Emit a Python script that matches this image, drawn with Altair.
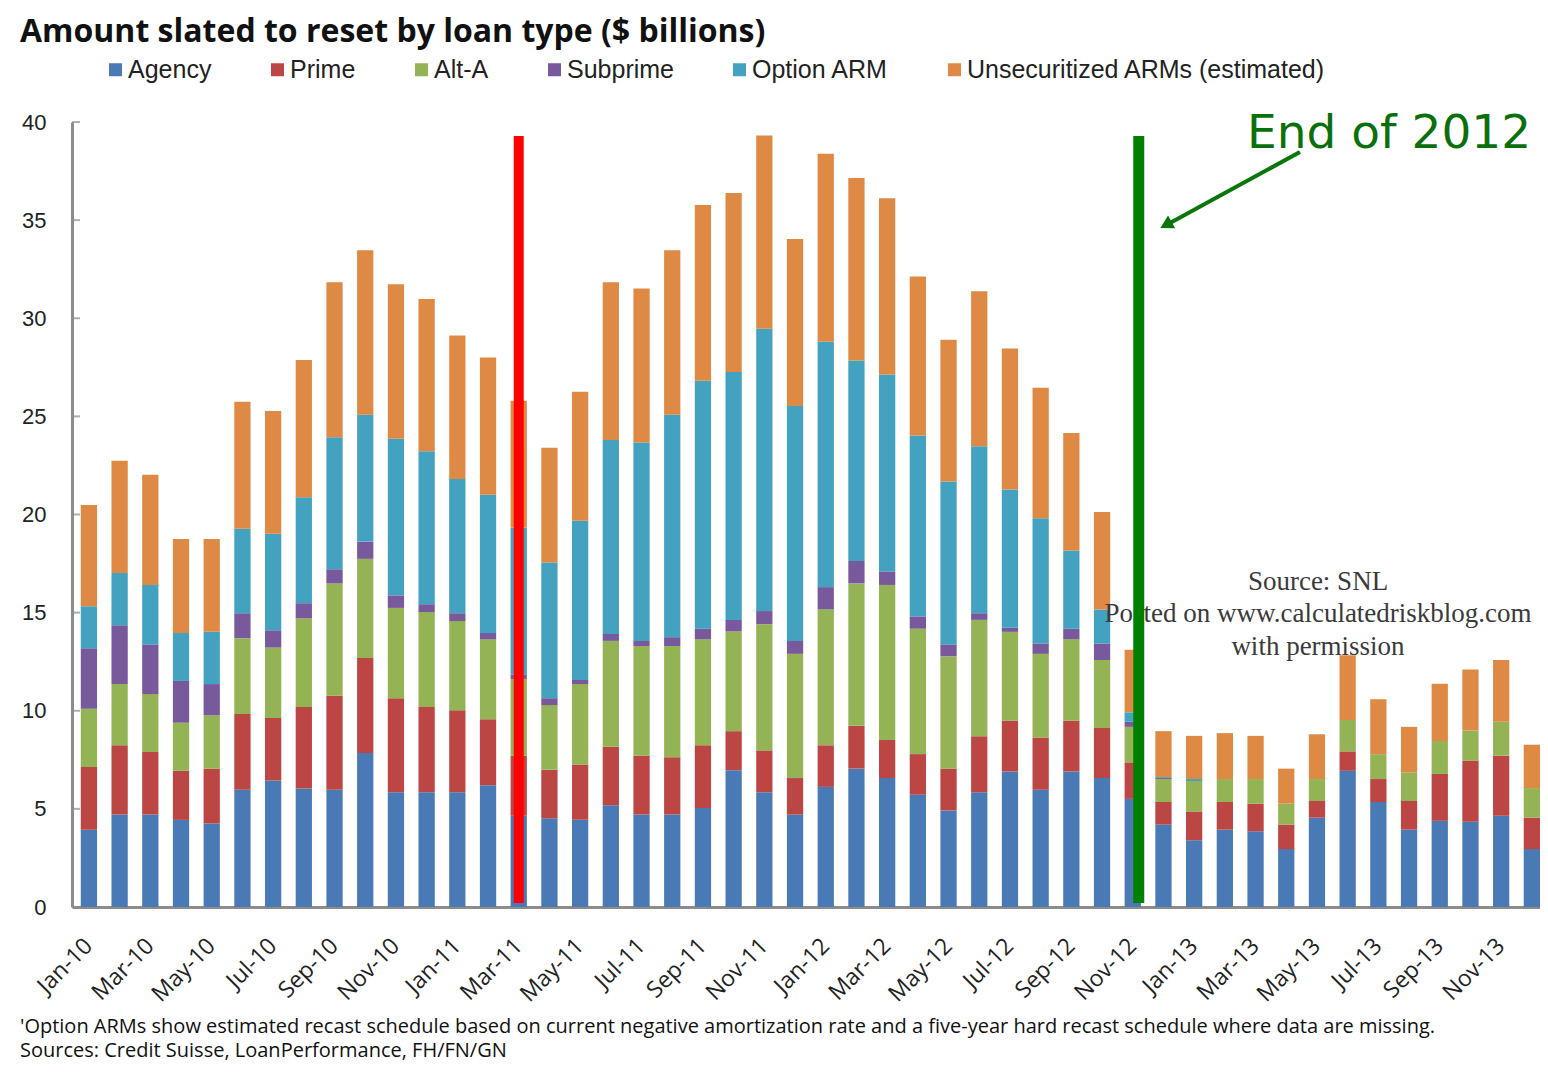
import altair as alt
import pandas as pd

MONTHS = [
    "Jan-10", "Feb-10", "Mar-10", "Apr-10", "May-10", "Jun-10", "Jul-10", "Aug-10", "Sep-10", "Oct-10", "Nov-10", "Dec-10",
    "Jan-11", "Feb-11", "Mar-11", "Apr-11", "May-11", "Jun-11", "Jul-11", "Aug-11", "Sep-11", "Oct-11", "Nov-11", "Dec-11",
    "Jan-12", "Feb-12", "Mar-12", "Apr-12", "May-12", "Jun-12", "Jul-12", "Aug-12", "Sep-12", "Oct-12", "Nov-12", "Dec-12",
    "Jan-13", "Feb-13", "Mar-13", "Apr-13", "May-13", "Jun-13", "Jul-13", "Aug-13", "Sep-13", "Oct-13", "Nov-13", "Dec-13",
]

AGENCY = [3.94, 4.71, 4.71, 4.44, 4.26, 5.98, 6.44, 6.04, 5.98, 7.85, 5.85, 5.85,
          5.85, 6.20, 4.65, 4.52, 4.44, 5.19, 4.71, 4.71, 5.05, 6.97, 5.85, 4.71,
          6.12, 7.05, 6.57, 5.72, 4.92, 5.85, 6.91, 5.98, 6.91, 6.57, 5.51, 4.20,
          3.40, 3.94, 3.86, 2.95, 4.55, 6.94, 5.35, 3.94, 4.39, 4.34, 4.65, 2.95]
PRIME = [3.19, 3.53, 3.19, 2.50, 2.79, 3.86, 3.19, 4.15, 4.79, 4.84, 4.79, 4.34,
         4.18, 3.37, 3.06, 2.47, 2.82, 2.97, 3.00, 2.92, 3.19, 1.99, 2.13, 1.86,
         2.12, 2.18, 1.94, 2.07, 2.13, 2.85, 2.58, 2.66, 2.58, 2.55, 1.86, 1.15,
         1.47, 1.41, 1.41, 1.25, 0.85, 0.99, 1.17, 1.46, 2.39, 3.11, 3.06, 1.60]
ALT_A = [2.97, 3.12, 2.95, 2.45, 2.71, 3.86, 3.59, 4.52, 5.72, 5.05, 4.60, 4.84,
         4.54, 4.07, 3.91, 3.30, 4.10, 5.40, 5.59, 5.67, 5.40, 5.08, 6.43, 6.33,
         6.92, 7.26, 7.90, 6.39, 5.72, 5.93, 4.53, 4.26, 4.15, 3.46, 1.81, 1.17,
         1.55, 1.17, 1.25, 1.07, 1.12, 1.60, 1.27, 1.46, 1.68, 1.54, 1.73, 1.51]
SUBPRIME = [3.08, 3.00, 2.53, 2.13, 1.60, 1.27, 0.88, 0.77, 0.72, 0.88, 0.64, 0.40,
            0.40, 0.32, 0.22, 0.35, 0.21, 0.35, 0.26, 0.45, 0.54, 0.59, 0.67, 0.66,
            1.14, 1.14, 0.69, 0.63, 0.61, 0.34, 0.21, 0.53, 0.54, 0.85, 0.26, 0.05,
            0.00, 0.00, 0.00, 0.00, 0.00, 0.00, 0.00, 0.00, 0.00, 0.00, 0.00, 0.00]
OPTION_ARM = [2.15, 2.66, 3.03, 2.44, 2.66, 4.31, 4.92, 5.40, 6.73, 6.46, 7.98, 7.79,
              6.84, 7.05, 7.50, 6.91, 8.11, 9.89, 10.11, 11.33, 12.63, 12.63, 14.39, 11.97,
              12.50, 10.22, 10.03, 9.21, 8.30, 8.51, 7.05, 6.38, 3.98, 1.73, 0.48, 0.05,
              0.10, 0.00, 0.00, 0.00, 0.00, 0.00, 0.00, 0.00, 0.00, 0.00, 0.00, 0.00]
UNSECURITIZED = [5.16, 5.72, 5.61, 4.79, 4.73, 6.46, 6.25, 6.99, 7.90, 8.38, 7.87, 7.76,
                 7.31, 6.99, 6.46, 5.85, 6.57, 8.04, 7.85, 8.38, 8.96, 9.12, 9.84, 8.51,
                 9.58, 9.30, 8.99, 8.11, 7.23, 7.90, 7.18, 6.65, 5.99, 4.97, 3.19, 2.34,
                 2.20, 2.34, 2.20, 1.78, 2.28, 3.30, 2.80, 2.32, 2.92, 3.11, 3.14, 2.21]

SERIES = ["Agency", "Prime", "Alt-A", "Subprime", "Option ARM", "Unsecuritized ARMs (estimated)"]
COLORS = ["#4a7ab5", "#bb4643", "#93b354", "#77599c", "#42a2c0", "#df8a44"]

X_TICKS = ["Jan-10", "Mar-10", "May-10", "Jul-10", "Sep-10", "Nov-10",
           "Jan-11", "Mar-11", "May-11", "Jul-11", "Sep-11", "Nov-11",
           "Jan-12", "Mar-12", "May-12", "Jul-12", "Sep-12", "Nov-12",
           "Jan-13", "Mar-13", "May-13", "Jul-13", "Sep-13", "Nov-13"]
Y_TICKS = [0, 5, 10, 15, 20, 25, 30, 35, 40]

TITLE = "Amount slated to reset by loan type ($ billions)"
FOOTNOTE = [
    "'Option ARMs show estimated recast schedule based on current negative amortization rate and a five-year hard recast schedule where data are missing.",
    "Sources: Credit Suisse, LoanPerformance, FH/FN/GN",
]
WATERMARK = ["Source: SNL", "Posted on www.calculatedriskblog.com", "with permission"]
ANNOTATION = "End of 2012"
RED_LINE_AT = ["Mar-11"]
GREEN_LINE_AT = ["Nov-12"]

rows = []
for k, (name, vals) in enumerate(zip(SERIES, [AGENCY, PRIME, ALT_A, SUBPRIME, OPTION_ARM, UNSECURITIZED])):
    for m, v in zip(MONTHS, vals):
        rows.append({"month": m, "series": name, "value": v, "order": k})
df = pd.DataFrame(rows)

AXIS_GRAY = "#8c8c8c"
GREEN = "#008000"
ARROW_GREEN = "#0a760a"


def text_layer(text, x, y, **style):
    return alt.Chart(pd.DataFrame({"t": [text]})).mark_text(
        baseline="alphabetic", **style
    ).encode(text="t:N", x=alt.value(x), y=alt.value(y))


x_enc = alt.X(
    "month:N",
    sort=MONTHS,
    scale=alt.Scale(domain=MONTHS, paddingInner=0.47, paddingOuter=0.143, align=1),
    axis=alt.Axis(
        values=X_TICKS, labelAngle=315, labelAlign="right", labelBaseline="middle",
        labelPadding=35, ticks=False, domainColor=AXIS_GRAY, domainWidth=3,
        labelFont="Open Sans", labelFontSize=23, labelColor="#222222",
        labelOverlap=False, title=None,
    ),
)

bars = alt.Chart(df).mark_bar().encode(
    x=x_enc,
    y=alt.Y(
        "value:Q", stack="zero",
        scale=alt.Scale(domain=[0, 40], nice=False),
        axis=alt.Axis(
            values=Y_TICKS, ticks=False, labelPadding=26, domainColor=AXIS_GRAY,
            domainWidth=3, labelFont="Liberation Sans", labelFontSize=22,
            labelColor="#222222", grid=False, title=None,
        ),
    ),
    color=alt.Color(
        "series:N",
        scale=alt.Scale(domain=SERIES, range=COLORS),
        legend=alt.Legend(
            title=None, orient="none", legendX=31, legendY=-65, direction="horizontal",
            symbolType="square", symbolSize=169, symbolStrokeWidth=0, symbolOpacity=1,
            labelFont="Liberation Sans", labelFontSize=25, labelColor="#222222",
            labelOffset=0, columnPadding=53, labelLimit=600, padding=0,
        ),
    ),
    order=alt.Order("order:Q", sort="ascending"),
)

y_ticks = alt.Chart(pd.DataFrame({"v": Y_TICKS})).mark_tick(
    color=AXIS_GRAY, thickness=2, size=8, orient="horizontal"
).encode(y=alt.Y("v:Q", title=None), x=alt.value(4))

wm_style = dict(align="center", font="Liberation Serif", fontSize=27, color="#3a3a3a")
watermark = [
    text_layer(WATERMARK[0], 1246, 468, **wm_style),
    text_layer(WATERMARK[1], 1246, 500, **wm_style),
    text_layer(WATERMARK[2], 1246, 533, **wm_style),
]

red_line = alt.Chart(pd.DataFrame({"month": RED_LINE_AT})).mark_rule(
    color="#ff0000", strokeWidth=10
).encode(x=alt.X("month:N", sort=MONTHS, title=None), y=alt.value(14), y2=alt.value(781))

green_line = alt.Chart(pd.DataFrame({"month": GREEN_LINE_AT})).mark_rule(
    color=GREEN, strokeWidth=11, xOffset=6
).encode(x=alt.X("month:N", sort=MONTHS, title=None), y=alt.value(14), y2=alt.value(781))

arrow_shaft = alt.Chart(pd.DataFrame({"a": [0]})).mark_rule(
    color=ARROW_GREEN, strokeWidth=4
).encode(x=alt.value(1228), y=alt.value(30), x2=alt.value(1098), y2=alt.value(101))

arrow_head = alt.Chart(pd.DataFrame({"a": [0]})).mark_point(
    shape="triangle-up", filled=True, opacity=1, size=220, angle=241, color=ARROW_GREEN
).encode(x=alt.value(1094), y=alt.value(103))

annotation = text_layer(ANNOTATION, 1175, 26, align="left", font="DejaVu Sans",
                        fontSize=47, color="#0b700b")

title = text_layer(TITLE, -52, -80, align="left", font="Open Sans", fontWeight="bold",
                   fontSize=32, color="#111111")

foot_style = dict(align="left", font="Open Sans", fontSize=20, color="#111111")
foot = [
    text_layer(FOOTNOTE[0], -52, 911, **foot_style),
    text_layer(FOOTNOTE[1], -52, 935, **foot_style),
]

chart = alt.layer(
    bars, y_ticks, *watermark, red_line, green_line, arrow_shaft, arrow_head,
    annotation, title, *foot
).properties(
    width=1468, height=785,
    padding={"left": 64, "top": 114, "right": 0, "bottom": 157},
    autosize=alt.AutoSizeParams(type="none"),
    background="white",
).configure_view(stroke=None)

chart.save("out.html", embed_options={"renderer": "svg", "actions": False})
